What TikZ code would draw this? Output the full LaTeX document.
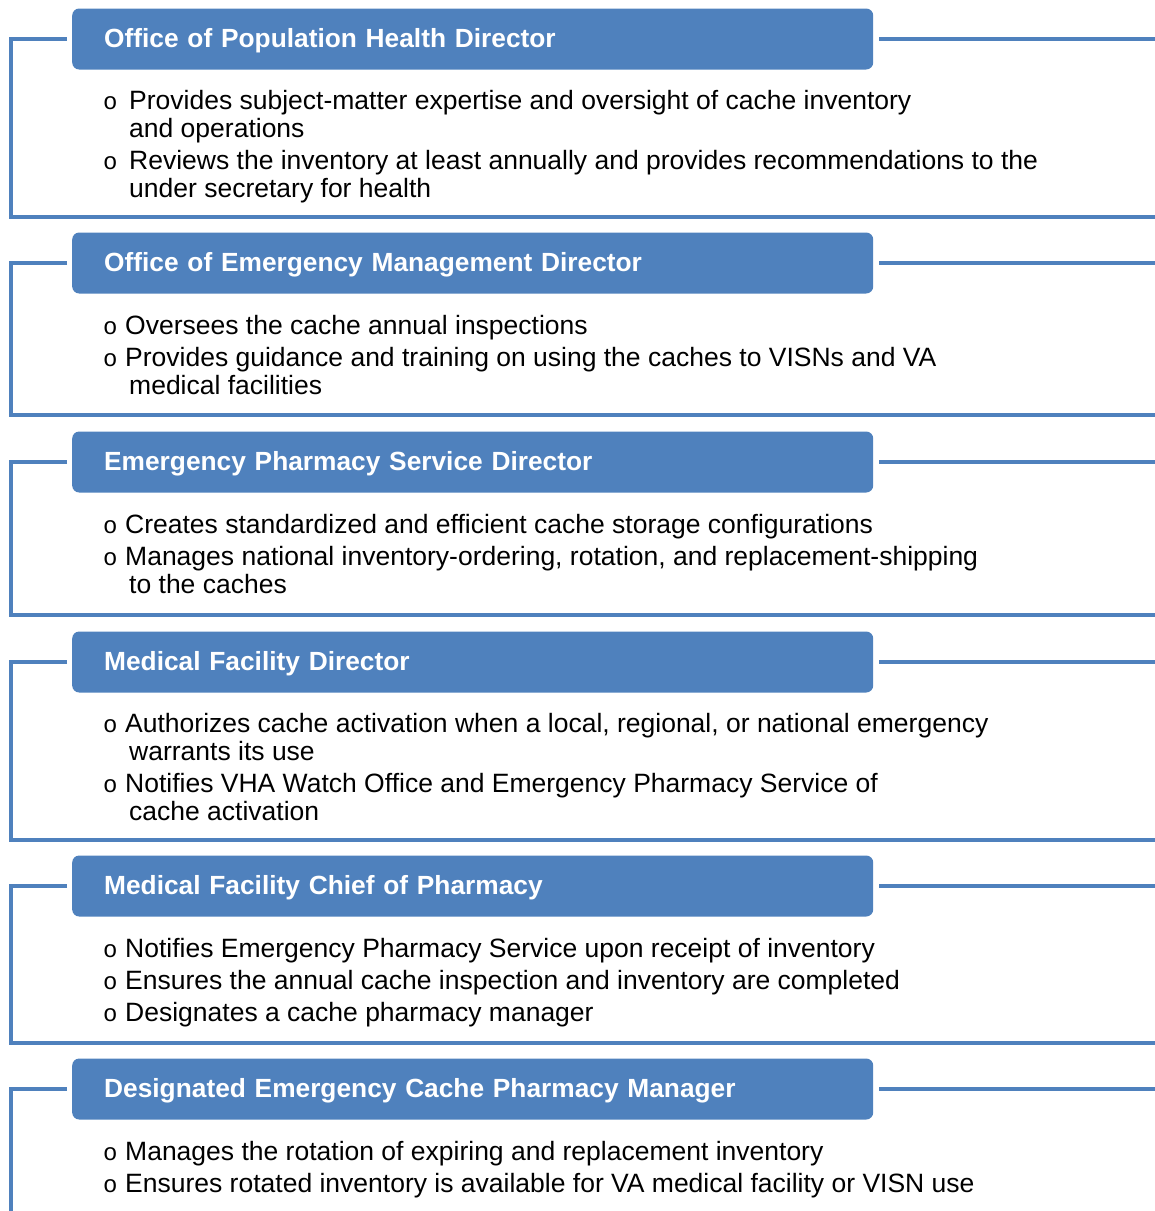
\documentclass[tikz,border=0pt]{standalone}
\usepackage{fontspec}
\setmainfont{Liberation Sans}
\newfontfamily\bulletfont{Liberation Mono}
\usetikzlibrary{positioning}

\definecolor{roleblue}{HTML}{4F81BD}
\newcommand{\itm}[1][22pt]{\makebox[#1][l]{\bulletfont\fontsize{24}{28}\selectfont o}}
\newcommand{\cont}{\hspace*{26pt}}

\begin{document}
\begin{tikzpicture}[
  x=1pt, y=-1pt,
  font=\fontsize{26.5}{28}\selectfont,
  hdr/.style={fill=roleblue, rounded corners=7pt, anchor=west, text=white, align=left,
              minimum height=61pt, text width=737pt, inner xsep=32pt, inner ysep=0pt,
              text height=19pt, text depth=2.5pt,
              font=\fontsize{26.3}{28}\selectfont\bfseries},
  body/.style={anchor=north west, align=left, inner sep=0pt},
  frame/.style={draw=roleblue, line width=4pt}
]
\useasboundingbox (0,0) rectangle (1155,1211);

% Office of Population Health Director
\node[hdr] (hdrPop) at (72,39) {Office of Population Health Director};
\node[body] (bodyPop) at (103,90) {\itm[26pt]Provides subject-matter expertise and oversight of cache inventory\\
  \cont and operations\\[4pt]
  \itm[26pt]Reviews the inventory at least annually and provides recommendations to the\\
  \cont under secretary for health};
\coordinate (popBL) at (11,217);
\coordinate (popBR) at (1155,217);
\coordinate (popTR) at (1155,39);
\draw[frame] ([xshift=-5pt]hdrPop.west) -| (popBL) -- (popBR);
\draw[frame] ([xshift=6pt]hdrPop.east) -- (popTR);

% Office of Emergency Management Director
\node[hdr] (hdrEmg) at (72,263) {Office of Emergency Management Director};
\node[body] (bodyEmg) at (103,315) {\itm Oversees the cache annual inspections\\[4pt]
  \itm Provides guidance and training on using the caches to VISNs and VA\\
  \cont medical facilities};
\coordinate (emgBL) at (11,415);
\coordinate (emgBR) at (1155,415);
\coordinate (emgTR) at (1155,263);
\draw[frame] ([xshift=-5pt]hdrEmg.west) -| (emgBL) -- (emgBR);
\draw[frame] ([xshift=6pt]hdrEmg.east) -- (emgTR);

% Emergency Pharmacy Service Director
\node[hdr] (hdrPhs) at (72,462) {Emergency Pharmacy Service Director};
\node[body] (bodyPhs) at (103,514) {\itm Creates standardized and efficient cache storage configurations\\[4pt]
  \itm Manages national inventory-ordering, rotation, and replacement-shipping\\
  \cont to the caches};
\coordinate (phsBL) at (11,615);
\coordinate (phsBR) at (1155,615);
\coordinate (phsTR) at (1155,462);
\draw[frame] ([xshift=-5pt]hdrPhs.west) -| (phsBL) -- (phsBR);
\draw[frame] ([xshift=6pt]hdrPhs.east) -- (phsTR);

% Medical Facility Director
\node[hdr] (hdrMfd) at (72,662) {Medical Facility Director};
\node[body] (bodyMfd) at (103,713) {\itm Authorizes cache activation when a local, regional, or national emergency\\
  \cont warrants its use\\[4pt]
  \itm Notifies VHA Watch Office and Emergency Pharmacy Service of\\
  \cont cache activation};
\coordinate (mfdBL) at (11,840);
\coordinate (mfdBR) at (1155,840);
\coordinate (mfdTR) at (1155,662);
\draw[frame] ([xshift=-5pt]hdrMfd.west) -| (mfdBL) -- (mfdBR);
\draw[frame] ([xshift=6pt]hdrMfd.east) -- (mfdTR);

% Medical Facility Chief of Pharmacy
\node[hdr] (hdrCop) at (72,886) {Medical Facility Chief of Pharmacy};
\node[body] (bodyCop) at (103,938) {\itm Notifies Emergency Pharmacy Service upon receipt of inventory\\[4pt]
  \itm Ensures the annual cache inspection and inventory are completed\\[4pt]
  \itm Designates a cache pharmacy manager};
\coordinate (copBL) at (11,1043);
\coordinate (copBR) at (1155,1043);
\coordinate (copTR) at (1155,886);
\draw[frame] ([xshift=-5pt]hdrCop.west) -| (copBL) -- (copBR);
\draw[frame] ([xshift=6pt]hdrCop.east) -- (copTR);

% Designated Emergency Cache Pharmacy Manager
\node[hdr] (hdrMgr) at (72,1089) {Designated Emergency Cache Pharmacy Manager};
\node[body] (bodyMgr) at (103,1141) {\itm Manages the rotation of expiring and replacement inventory\\[4pt]
  \itm Ensures rotated inventory is available for VA medical facility or VISN use};
\coordinate (mgrBL) at (11,1211);
\coordinate (mgrTR) at (1155,1089);
\draw[frame] ([xshift=-5pt]hdrMgr.west) -| (mgrBL);
\draw[frame] ([xshift=6pt]hdrMgr.east) -- (mgrTR);
\end{tikzpicture}
\end{document}
